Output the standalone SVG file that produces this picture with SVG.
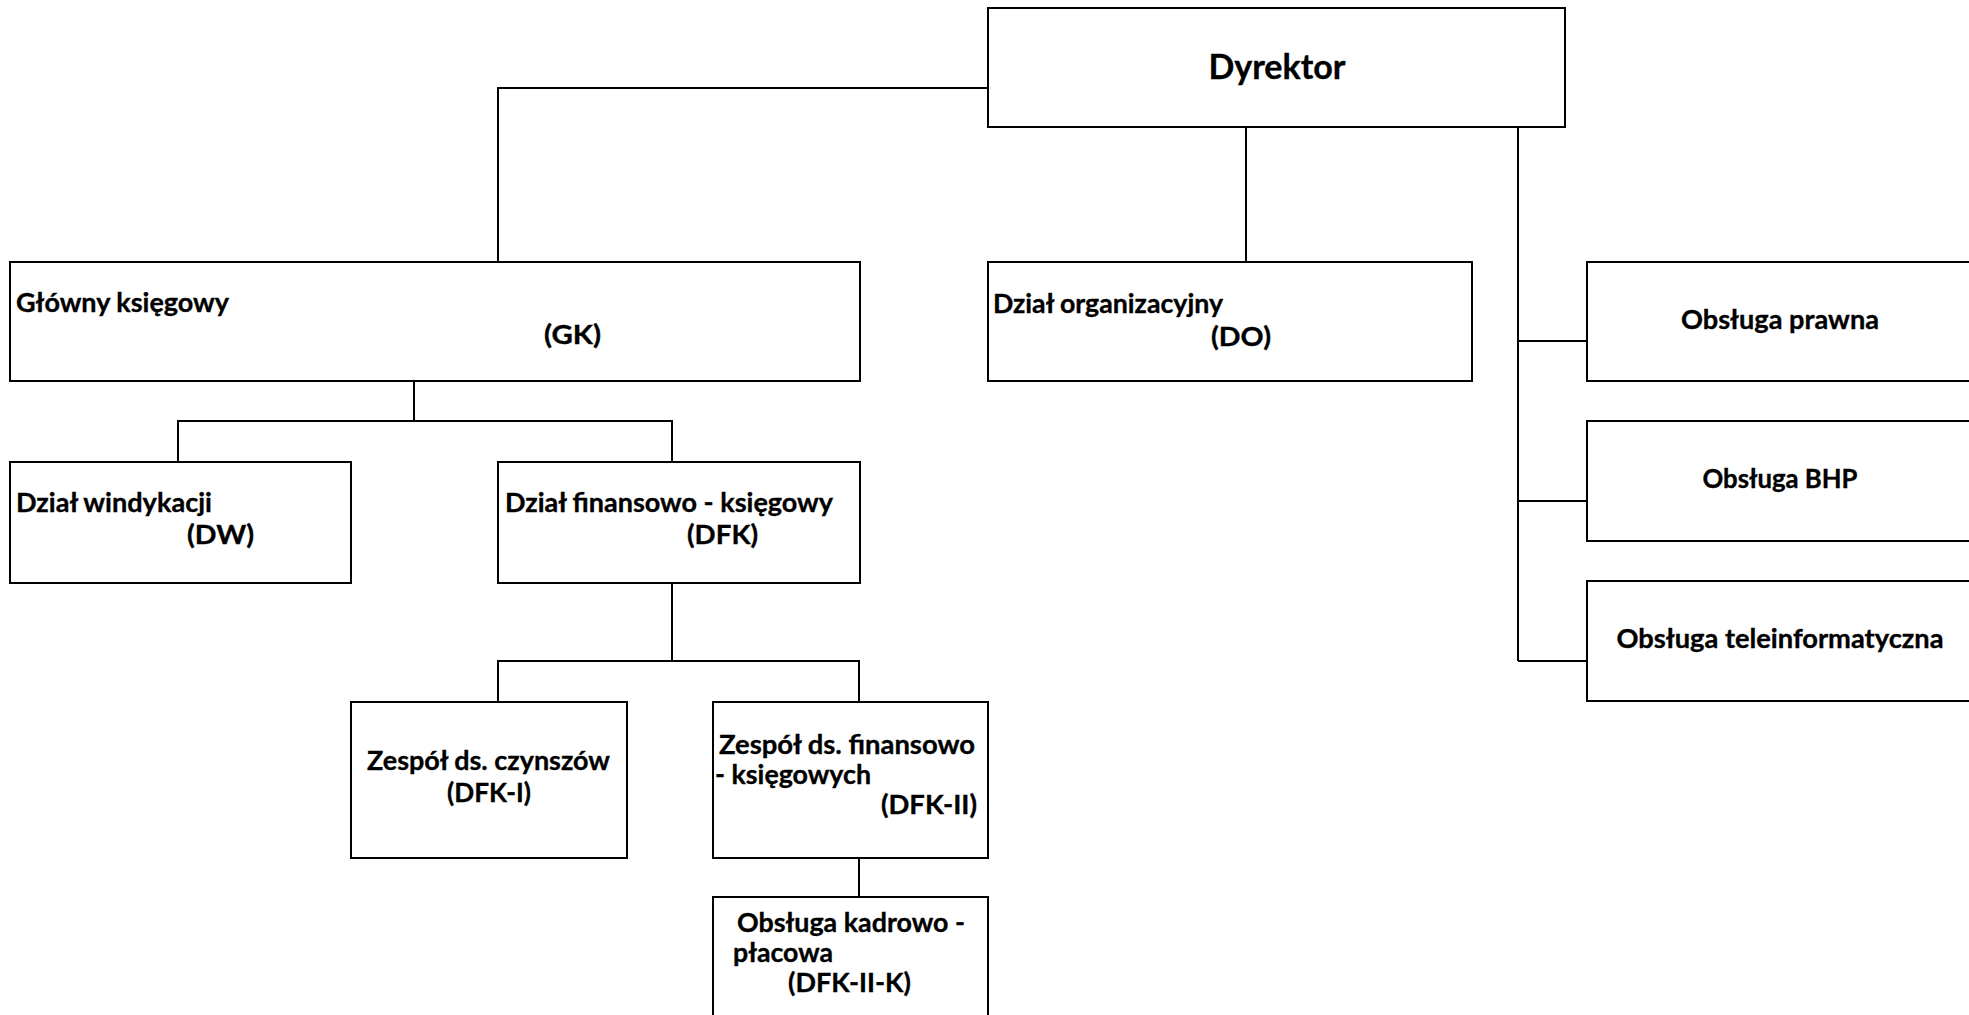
<svg xmlns="http://www.w3.org/2000/svg" width="1969" height="1015" viewBox="0 0 1969 1015">
<style>
rect.box{fill:#fff;stroke:#000;stroke-width:2}
.conn path{fill:none;stroke:#000;stroke-width:2}
text{font-family:Lato,"Open Sans","Liberation Sans",sans-serif;font-weight:bold;font-size:27.5px;fill:#000;stroke:#000;stroke-width:0.35px}
text.big{font-size:34.5px}
</style>
<rect width="1969" height="1015" fill="#fff"/>
<g class="conn" id="connectors">
<path d="M988 88H498V262"/>
<path d="M1246 127V262"/>
<path d="M1518 127V661"/>
<path d="M1518 341H1587"/>
<path d="M1518 501H1587"/>
<path d="M1518 661H1587"/>
<path d="M414 381V421"/>
<path d="M178 462V421H672V462"/>
<path d="M672 583V661"/>
<path d="M498 702V661H859V702"/>
<path d="M859 858V897"/>
</g>
<g id="dyrektor"><rect class="box" x="988" y="8" width="577" height="119"/>
<text class="big" x="1208.5" y="79" textLength="137" lengthAdjust="spacingAndGlyphs">Dyrektor</text></g>
<g id="gk"><rect class="box" x="10" y="262" width="850" height="119"/>
<text x="16" y="312" textLength="213" lengthAdjust="spacingAndGlyphs">Główny księgowy</text>
<text x="544" y="344" textLength="57" lengthAdjust="spacingAndGlyphs">(GK)</text></g>
<g id="do"><rect class="box" x="988" y="262" width="484" height="119"/>
<text x="993" y="313" textLength="230" lengthAdjust="spacingAndGlyphs">Dział organizacyjny</text>
<text x="1211" y="346" textLength="60" lengthAdjust="spacingAndGlyphs">(DO)</text></g>
<g id="prawna"><rect class="box" x="1587" y="262" width="390" height="119"/>
<text x="1681" y="329" textLength="198" lengthAdjust="spacingAndGlyphs">Obsługa prawna</text></g>
<g id="bhp"><rect class="box" x="1587" y="421" width="390" height="120"/>
<text x="1702.5" y="488" textLength="155" lengthAdjust="spacingAndGlyphs">Obsługa BHP</text></g>
<g id="tele"><rect class="box" x="1587" y="581" width="390" height="120"/>
<text x="1616.5" y="648" textLength="327" lengthAdjust="spacingAndGlyphs">Obsługa teleinformatyczna</text></g>
<g id="dw"><rect class="box" x="10" y="462" width="341" height="121"/>
<text x="16" y="512" textLength="196" lengthAdjust="spacingAndGlyphs">Dział windykacji</text>
<text x="187" y="544" textLength="67" lengthAdjust="spacingAndGlyphs">(DW)</text></g>
<g id="dfk"><rect class="box" x="498" y="462" width="362" height="121"/>
<text x="505" y="512" textLength="328" lengthAdjust="spacingAndGlyphs">Dział finansowo - księgowy</text>
<text x="687" y="544" textLength="71" lengthAdjust="spacingAndGlyphs">(DFK)</text></g>
<g id="dfk-i"><rect class="box" x="351" y="702" width="276" height="156"/>
<text x="367" y="770" textLength="243" lengthAdjust="spacingAndGlyphs">Zespół ds. czynszów</text>
<text x="447" y="802" textLength="84" lengthAdjust="spacingAndGlyphs">(DFK-I)</text></g>
<g id="dfk-ii"><rect class="box" x="713" y="702" width="275" height="156"/>
<text x="719" y="754" textLength="256" lengthAdjust="spacingAndGlyphs">Zespół ds. finansowo</text>
<text x="715" y="784" textLength="156" lengthAdjust="spacingAndGlyphs">- księgowych</text>
<text x="881" y="814" textLength="96" lengthAdjust="spacingAndGlyphs">(DFK-II)</text></g>
<g id="dfk-ii-k"><rect class="box" x="713" y="897" width="275" height="130"/>
<text x="737" y="932" textLength="228" lengthAdjust="spacingAndGlyphs">Obsługa kadrowo -</text>
<text x="733" y="962" textLength="100" lengthAdjust="spacingAndGlyphs">płacowa</text>
<text x="788" y="992" textLength="123" lengthAdjust="spacingAndGlyphs">(DFK-II-K)</text></g>
</svg>
